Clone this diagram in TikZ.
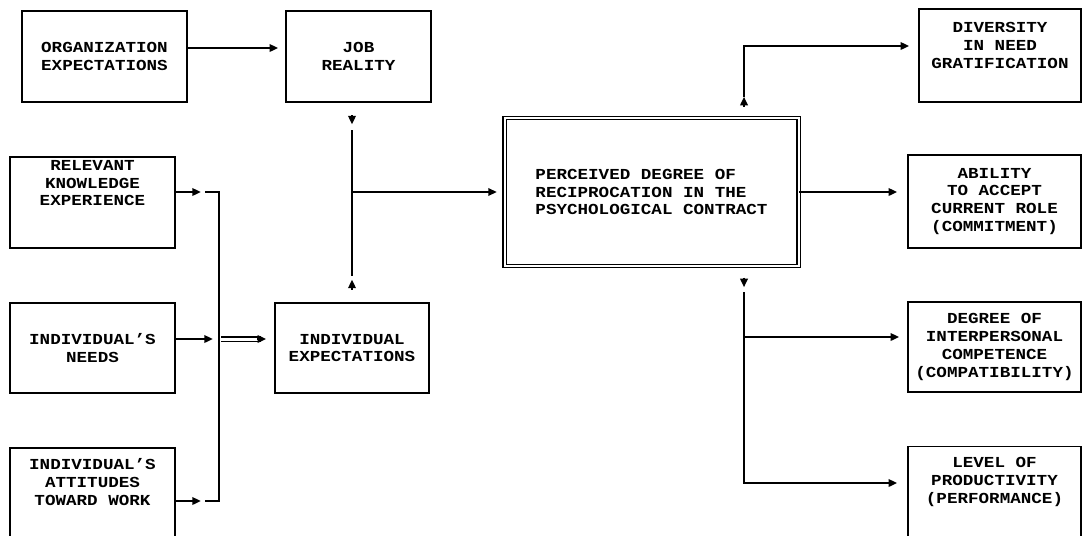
\documentclass[tikz,border=0pt]{standalone}
\usepackage{fontspec}
\setmonofont{Liberation Mono}[FakeStretch=1.15]
\usetikzlibrary{arrows.meta}
\tikzset{
  box/.style={draw, align=center, inner sep=0.5pt, font=\ttfamily\bfseries\fontsize{8.7pt}{10.2pt}\selectfont},
  lift/.style={text depth=#1},
}
\begin{document}
\begin{tikzpicture}[line width=1pt, >={Triangle[length=0.17cm,width=0.15cm]}]
\useasboundingbox (0,0) rectangle (21.66,-10.70);
\clip (0,0) rectangle (21.66,-10.70);
% left side
\node[box, minimum width=3.30cm, minimum height=1.82cm] (org) at (2.09,-1.13) {ORGANIZATION\\EXPECTATIONS};
\node[box, minimum width=2.90cm, minimum height=1.82cm] (job) at (7.17,-1.13) {JOB\\REALITY};
\node[box, minimum width=3.30cm, minimum height=1.82cm, lift=0.78cm] (rel) at (1.85,-4.05) {RELEVANT\\KNOWLEDGE\\EXPERIENCE};
\node[box, minimum width=3.30cm, minimum height=1.80cm, below of=rel, node distance=2.91cm] (needs) {INDIVIDUAL’S\\NEEDS};
\node[box, minimum width=3.30cm, minimum height=1.84cm, lift=0.48cm, below of=needs, node distance=2.92cm] (att) {INDIVIDUAL’S\\ATTITUDES\\TOWARD WORK};
\node[box, minimum width=3.08cm, minimum height=1.80cm, right of=needs, node distance=5.19cm] (indexp) {INDIVIDUAL\\EXPECTATIONS};
% centre
\node[box, double, double distance=0.04cm, line width=0.8pt, align=left, minimum width=5.88cm, minimum height=2.96cm] (perc) at (13.03,-3.84) {PERCEIVED DEGREE OF\\RECIPROCATION IN THE\\PSYCHOLOGICAL CONTRACT};
% right side
\node[box, minimum width=3.24cm, minimum height=1.86cm, lift=0.40cm] (div) at (20.00,-1.11) {DIVERSITY\\IN NEED\\GRATIFICATION};
\node[box, minimum width=3.46cm, minimum height=1.86cm] (abil) at (19.89,-4.03) {ABILITY\\TO ACCEPT\\CURRENT ROLE\\(COMMITMENT)};
\node[box, minimum width=3.46cm, minimum height=1.80cm, below of=abil, node distance=2.91cm] (deg) {DEGREE OF\\INTERPERSONAL\\COMPETENCE\\(COMPATIBILITY)};
\node[box, minimum width=3.46cm, minimum height=1.84cm, lift=0.47cm, below of=deg, node distance=2.91cm] (lev) {LEVEL OF\\PRODUCTIVITY\\(PERFORMANCE)};
% junctions
\coordinate (bt) at (4.38,-3.84);
\coordinate (bm) at (4.38,-6.78);
\coordinate (bb) at (4.38,-10.02);
\coordinate (jn) at (indexp.north |- perc.west);
\coordinate (pu) at (14.88,-0.92);
\coordinate (pd) at (14.88,-5.84);
\coordinate (pm) at (14.88,-6.74);
\coordinate (pl) at (14.88,-9.66);
% connectors
\draw[->, shorten >=0.14cm] ([yshift=0.17cm]org.east) -- ([yshift=0.17cm]job.west);
\draw[->] ([yshift=0.21cm]rel.east) -- ++(0.50,0);
\draw[->] ([yshift=0.18cm]needs.east) -- ++(0.74,0);
\draw[->] ([yshift=-0.14cm]att.east) -- ++(0.50,0);
\draw ([xshift=-0.28cm]bt) -- (bt) -- (bb) -- ([xshift=-0.28cm]bb);
\draw[double, double distance=0.06cm, line width=0.75pt, shorten <=0.04cm, shorten >=0.26cm] (bm) -- (bm -| indexp.west);
\draw[->, shorten >=0.16cm] ([xshift=-0.34cm]bm -| indexp.west) -- (bm -| indexp.west);
\draw[->] ([yshift=-0.25cm]job.south -| jn) -- ([yshift=-0.43cm]job.south -| jn);
\draw ([yshift=1.24cm]jn) -- ([yshift=-1.67cm]jn);
\draw[->] ([yshift=0.25cm]indexp.north) -- ([yshift=0.45cm]indexp.north);
\draw[->, shorten >=0.14cm] (jn) -- (perc.west);
\draw[->] ([xshift=1.85cm,yshift=0.21cm]perc.north) -- ([xshift=1.85cm,yshift=0.41cm]perc.north);
\draw[->, shorten >=0.18cm] ([yshift=-1.02cm]pu) -- (pu) -- (pu -| div.west);
\draw[->, shorten >=0.20cm] (perc.east) -- (perc.east -| abil.west);
\draw[->] ([xshift=1.85cm,yshift=-0.22cm]perc.south) -- ([xshift=1.85cm,yshift=-0.41cm]perc.south);
\draw[->, shorten >=0.20cm] (pd) -- (pl) -- (pl -| lev.west);
\draw[->, shorten >=0.16cm] (pm) -- (pm -| deg.west);
\end{tikzpicture}
\end{document}
